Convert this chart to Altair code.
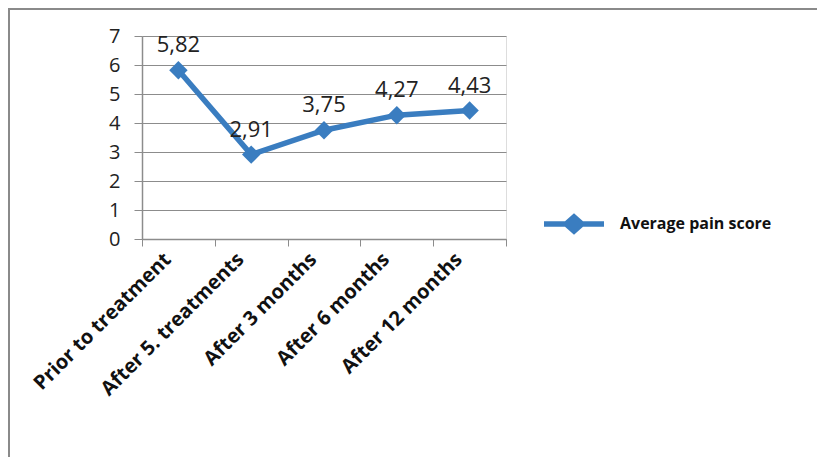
import altair as alt
import pandas as pd

categories = ["Prior to treatment", "After 5. treatments", "After 3 months", "After 6 months", "After 12 months"]
values = [5.82, 2.91, 3.75, 4.27, 4.43]
labels = ["5,82", "2,91", "3,75", "4,27", "4,43"]
series = "Average pain score"

df = pd.DataFrame({"cat": categories, "val": values, "lab": labels, "series": [series] * len(categories)})

BLUE = "#3a7dc0"
GRID = "#8c8c8c"
FONT = "Open Sans"

legend_path = ("M-1,-0.09 L-0.3,-0.09 L0,-0.36 L0.3,-0.09 L1,-0.09 L1,0.09 L0.3,0.09 L0,0.36 L-0.3,0.09 L-1,0.09 Z")

x_enc = alt.X("cat:N", sort=categories, bandPosition=0.5,
              scale=alt.Scale(type="band", paddingInner=0, paddingOuter=0),
              axis=alt.Axis(title=None, labelAngle=-45, labelAlign="right", labelBaseline="middle",
                            labelFont=FONT, labelFontWeight="bold", labelFontSize=20, labelColor="#111",
                            labelPadding=10, labelOffset=-11, tickBand="extent", tickSize=7, tickColor=GRID,
                            domainColor=GRID, domainWidth=1.5, grid=False, labelLimit=300))
y_enc = alt.Y("val:Q", scale=alt.Scale(domain=[0, 7], nice=False, zero=True),
              axis=alt.Axis(title=None, values=list(range(8)), labelFont=FONT, labelFontSize=20,
                            labelColor="#222", labelPadding=14, tickSize=8, tickColor=GRID,
                            domainColor=GRID, domainWidth=1.5, gridColor=GRID, gridWidth=1.2))

color_enc = alt.Color("series:N", scale=alt.Scale(range=[BLUE]),
                      legend=alt.Legend(title=None, orient="none", legendX=402, legendY=158,
                                        symbolType=legend_path, symbolSize=3600,
                                        symbolFillColor=BLUE, symbolStrokeColor=BLUE, symbolStrokeWidth=0,
                                        labelFont=FONT, labelFontWeight="bold", labelFontSize=16,
                                        labelColor="#111", labelOffset=16))

base = alt.Chart(df)

line = base.mark_line(strokeWidth=5.5).encode(x=x_enc, y=y_enc, color=color_enc)
pts = base.mark_point(shape="diamond", filled=True, size=340, opacity=1).encode(
    x=x_enc, y=y_enc, color=alt.Color("series:N", scale=alt.Scale(range=[BLUE]), legend=None))
txt = base.mark_text(dy=-25, fontSize=22, font=FONT, color="#222").encode(x=x_enc, y=y_enc, text="lab:N")

frame_left = base.mark_rule(color="#8a8a8a", strokeWidth=2).encode(
    x=alt.value(-133), y=alt.value(-28), y2=alt.value(430))
frame_top = base.mark_rule(color="#8a8a8a", strokeWidth=2).encode(
    x=alt.value(-134), x2=alt.value(680), y=alt.value(-27))

chart = alt.layer(line, pts, txt, frame_left, frame_top).properties(
    width=364, height=203,
    autosize=alt.AutoSizeParams(type="none"),
    padding={"left": 134, "top": 28, "right": 311, "bottom": 218},
).configure_view(stroke=None).configure(background="white")

chart.save("out.html", embed_options={"renderer": "svg", "actions": False})
